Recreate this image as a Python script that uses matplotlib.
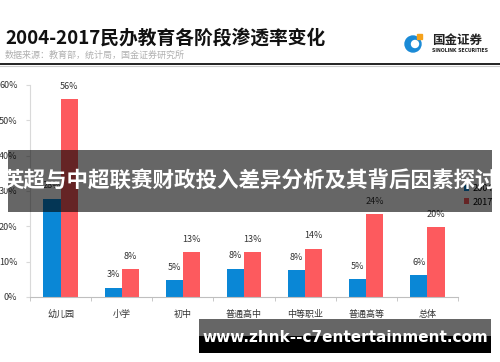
import matplotlib
matplotlib.use("Agg")
import matplotlib.pyplot as plt
import numpy as np
from matplotlib.patches import Rectangle, Circle

plt.rcParams['font.family'] = ['Noto Sans CJK SC', 'DejaVu Sans']

categories = ['幼儿园', '小学', '初中', '普通高中', '中等职业', '普通高等', '总体']
v2004 = [27.8, 2.6, 4.7, 8.0, 7.6, 5.0, 6.1]
v2017 = [55.9, 7.8, 12.7, 12.7, 13.7, 23.5, 19.7]
series_names = ['2004', '2017']
yticks = [0, 10, 20, 30, 40, 50, 60]

title = '2004-2017民办教育各阶段渗透率变化'
subtitle = '数据来源：教育部，统计局，国金证券研究所'
banner = '英超与中超联赛财政投入差异分析及其背后因素探讨'
url = 'www.zhnk--c7entertainment.com'

W, H = 500, 362
fig = plt.figure(figsize=(W / 100, H / 100), dpi=100)
fig.patch.set_facecolor('white')

def fx(x):
    return x / W

def fy(y):
    return 1 - y / H

blue = '#0a87d6'
red = '#fd5a5e'

ax = fig.add_axes([fx(30), fy(297), fx(458) - fx(30), fy(85) - fy(297)])
x = np.arange(len(categories))
w = 0.28
b1 = ax.bar(x - w / 2, v2004, w, color=blue, label=series_names[0])
b2 = ax.bar(x + w / 2, v2017, w, color=red, label=series_names[1])
for bars, vals in ((b1, v2004), (b2, v2017)):
    for r, v in zip(bars, vals):
        ax.annotate(f"{int(round(v))}%", (r.get_x() + r.get_width() / 2, v),
                    xytext=(0, 6), textcoords='offset points', ha='center', va='bottom',
                    fontsize=6.5, color='#333333')

ax.set_xlim(-0.5, len(categories) - 0.5)
ax.set_ylim(0, 60)
ax.set_yticks(yticks)
ax.set_yticklabels([f"{t}%" for t in yticks], fontsize=6.5, color='#333333')
ax.set_xticks(x)
ax.set_xticklabels(categories, fontsize=6.5, color='#333333')
ax.set_xticks(np.arange(-0.5, len(categories), 1), minor=True)
ax.tick_params(axis='x', which='major', length=0, pad=9)
ax.tick_params(axis='x', which='minor', length=3, color='#bfbfbf', direction='out')
ax.tick_params(axis='y', length=3, color='#d9d9d9', pad=6)
for s in ('top', 'right'):
    ax.spines[s].set_visible(False)
ax.spines['left'].set_color('#d9d9d9')
ax.spines['bottom'].set_color('#bfbfbf')

leg = fig.legend(handles=[b1, b2], labels=series_names, loc='upper left',
                 bbox_to_anchor=(fx(464), fy(184)), frameon=False, fontsize=6.5,
                 handlelength=0.6, handleheight=0.6, handletextpad=0.4, labelspacing=0.5,
                 borderaxespad=0, borderpad=0)

# header
fig.text(fx(5), fy(38), title, fontsize=13.5, fontweight='bold', color='#111111',
         va='center', ha='left')
fig.text(fx(5), fy(55), subtitle, fontsize=6.5, color='#b0b0b0', va='center', ha='left')

ov = fig.add_axes([0, 0, 1, 1], zorder=10)
ov.set_xlim(0, W)
ov.set_ylim(H, 0)
ov.axis('off')
ov.patch.set_alpha(0)

ov.plot([0, W], [63.5, 63.5], color='#222222', lw=1.4)
ov.plot([0, W], [65.5, 65.5], color='#cccccc', lw=0.8)

# logo
ov.add_patch(Circle((413, 44), 8, color='#1a8ad6'))
ov.add_patch(Circle((415, 44), 3.5, color='white'))
ov.add_patch(Rectangle((417, 34), 5, 5, color='#f5a21b'))
ov.text(432, 40, '国金证券', fontsize=9, fontweight='bold', color='#222222', va='center', ha='left')
ov.text(432, 51, 'SINOLINK SECURITIES', fontsize=3.3, fontweight='bold', color='#222222',
        va='center', ha='left', family='DejaVu Sans')

# gray banner
ov.add_patch(Rectangle((8, 150), 484, 62, color='black', alpha=0.6, lw=0))
ov.text(250, 180, banner, fontsize=15.5, fontweight='bold', color='white', va='center', ha='center')

# bottom url banner
ov.add_patch(Rectangle((199, 319), 292, 17, color='#666666', lw=0))
ov.add_patch(Rectangle((199, 336), 292, 17, color='black', lw=0))
ov.text(345, 337, url, fontsize=11, fontweight='bold', color='white', va='center', ha='center',
        family='DejaVu Sans')

fig.savefig('out.png', dpi=100)
